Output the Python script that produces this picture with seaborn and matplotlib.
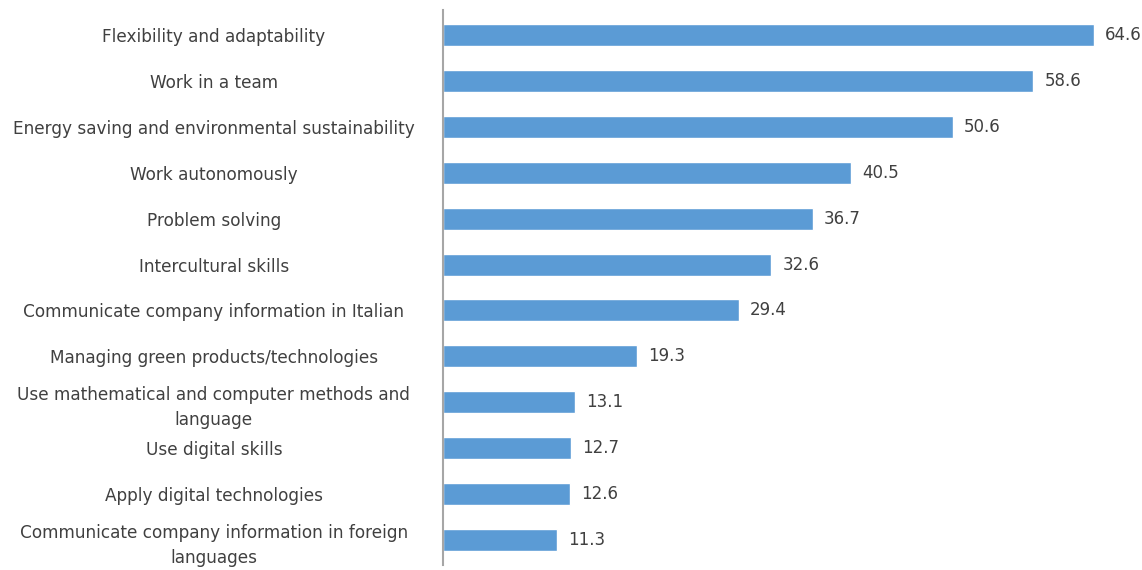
import matplotlib
matplotlib.use("Agg")
import matplotlib.pyplot as plt
import seaborn as sns
import pandas as pd

skills = [
    "Flexibility and adaptability",
    "Work in a team",
    "Energy saving and environmental sustainability",
    "Work autonomously",
    "Problem solving",
    "Intercultural skills",
    "Communicate company information in Italian",
    "Managing green products/technologies",
    "Use mathematical and computer methods and\nlanguage",
    "Use digital skills",
    "Apply digital technologies",
    "Communicate company information in foreign\nlanguages",
]
shares = [64.6, 58.6, 50.6, 40.5, 36.7, 32.6, 29.4, 19.3, 13.1, 12.7, 12.6, 11.3]

df = pd.DataFrame({"skill": skills, "share": shares})

sns.set_theme(style="white")
plt.rcParams["font.family"] = ["DejaVu Sans"]

text_color = "#404040"
bar_color = "#5B9BD5"

fig = plt.figure(figsize=(11.42, 5.70), dpi=100)
ax = fig.add_axes([443 / 1142, 5 / 570, (1138 - 443) / 1142, 555 / 570])

sns.barplot(data=df, x="share", y="skill", orient="h", color=bar_color,
            width=0.48, saturation=1, ax=ax)

ax.set_xlim(0, 69)
ax.set_ylim(11.54, -0.54)
ax.set_xlabel("")
ax.set_ylabel("")
ax.set_xticks([])

for s in ["top", "right", "bottom"]:
    ax.spines[s].set_visible(False)
ax.spines["left"].set_color("#a6a6a6")
ax.spines["left"].set_linewidth(1.5)

ax.tick_params(axis="y", length=0, pad=165, labelsize=12.2, labelcolor=text_color)
for lbl in ax.get_yticklabels():
    lbl.set_horizontalalignment("center")
    lbl.set_multialignment("center")
    lbl.set_linespacing(1.5)

for i, v in enumerate(shares):
    ax.annotate(f"{v:.1f}", xy=(v, i), xytext=(8, 0), textcoords="offset points",
                va="center", ha="left", fontsize=12, color=text_color,
                annotation_clip=False)

fig.savefig("out.png", dpi=100)
